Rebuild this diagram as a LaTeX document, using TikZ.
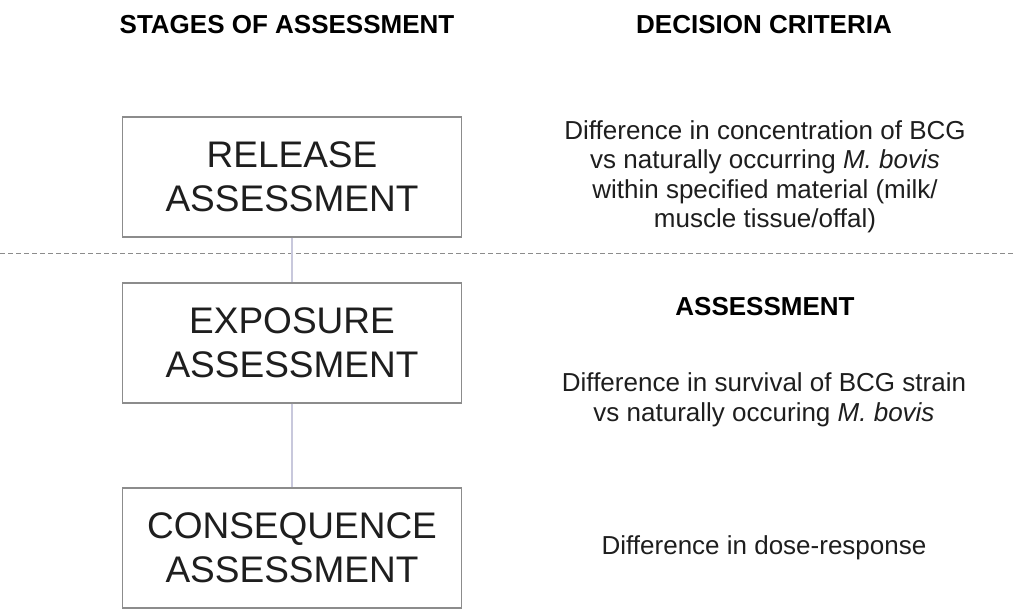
\documentclass[tikz,border=0pt]{standalone}
\usepackage{fontspec}
\setmainfont{Liberation Sans}
\usepackage{xcolor}
\usepackage{tikz}

\definecolor{boxgray}{HTML}{8C8C8C}
\definecolor{linklilac}{HTML}{C8C8DC}
\definecolor{textgray}{HTML}{1E1E1E}

\begin{document}
\begin{tikzpicture}[x=1pt,y=-1pt,
        stagebox/.style={draw=boxgray,line width=1.2pt,rectangle,minimum width=339pt,minimum height=120pt,
            align=center,font=\fontsize{37}{44}\selectfont,text=textgray},
        heading/.style={font=\bfseries\fontsize{26}{30}\selectfont,anchor=base},
        criterion/.style={align=center,font=\fontsize{26}{29.5}\selectfont,text=textgray},
        link/.style={draw=linklilac,line width=1.2pt}]
        \useasboundingbox (0,0) rectangle (1016,608);

        % column headings
        \node[heading] (stagesTitle) at (287,33) {STAGES OF ASSESSMENT};
        \node[heading] (criteriaTitle) at (764,33) {DECISION CRITERIA};

        % stages
        \node[stagebox] (release) at (292,177) {RELEASE\\ASSESSMENT};
        \node[stagebox] (exposure) at (292,343) {EXPOSURE\\ASSESSMENT};
        \node[stagebox] (consequence) at (292,548) {CONSEQUENCE\\ASSESSMENT};

        \coordinate (splitL) at (0,253);
        \coordinate (splitR) at (1016,253);
        \draw[boxgray,line width=0.9pt,dash pattern=on 5pt off 3pt] (splitL) -- (splitR);

        \draw[link] (release) -- (exposure);
        \draw[link] (exposure) -- (consequence);

        % criteria
        \node[criterion] (releaseCrit) at (765,177) {Difference in concentration of BCG\\vs naturally occurring \textit{M. bovis}\\within specified material (milk/\\muscle tissue/offal)};
        \node[heading] (assessTitle) at (765,315) {ASSESSMENT};
        \node[criterion] (exposureCrit) at (764,400) {Difference in survival of BCG strain\\vs naturally occuring \textit{M. bovis}};
        \node[criterion] (consequenceCrit) at (764,548) {Difference in dose-response};
    \end{tikzpicture}
\end{document}
